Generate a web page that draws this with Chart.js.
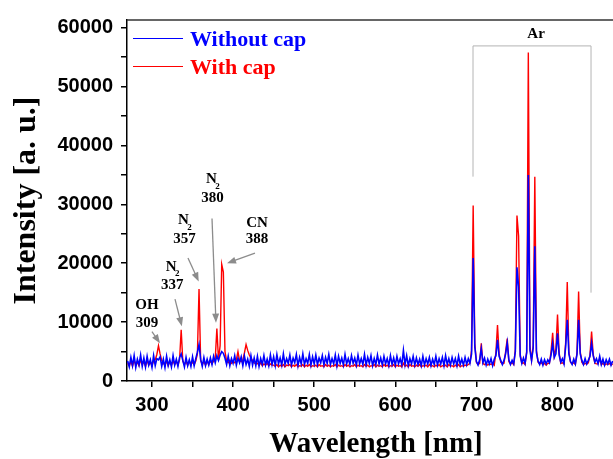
<!DOCTYPE html>
<html>
<head>
<meta charset="utf-8">
<title>Emission spectrum</title>
<script src="https://cdn.jsdelivr.net/npm/chart.js@4.4.0/dist/chart.umd.min.js"></script>
<style>
  body { margin: 0; background: #fff; }
  canvas { display: block; }
</style>
</head>
<body>
<canvas id="spectrumChart" width="613" height="459"></canvas>
<script>
// wavelength grid in nm (shared by both spectra)
const wavelengths = [
  270,272,274,276,278,280,282,284,286,288, 290,292,294,296,298,300,302,304,306,308,
  310,312,314,316,318,320,322,324,326,328, 330,332,334,336,338,340,342,344,346,348,
  350,352,354,356,358,360,362,364,366,368, 370,372,374,376,378,380,382,384,386,388,
  390,392,394,396,398,400,402,404,406,408, 410,412,414,416,418,420,422,424,426,428,
  430,432,434,436,438,440,442,444,446,448, 450,452,454,456,458,460,462,464,466,468,
  470,472,474,476,478,480,482,484,486,488, 490,492,494,496,498,500,502,504,506,508,
  510,512,514,516,518,520,522,524,526,528, 530,532,534,536,538,540,542,544,546,548,
  550,552,554,556,558,560,562,564,566,568, 570,572,574,576,578,580,582,584,586,588,
  590,592,594,596,598,600,602,604,606,608, 610,612,614,616,618,620,622,624,626,628,
  630,632,634,636,638,640,642,644,646,648, 650,652,654,656,658,660,662,664,666,668,
  670,672,674,676,678,680,682,684,686,688, 690,692,694,696,698,700,702,704,706,708,
  710,712,714,716,718,720,722,724,726,728, 730,732,734,736,738,740,742,744,746,748,
  750,752,754,756,758,760,762,764,766,768, 770,772,774,776,778,780,782,784,786,788,
  790,792,794,796,798,800,802,804,806,808, 810,812,814,816,818,820,822,824,826,828,
  830,832,834,836,838,840,842,844,846,848, 850,852,854,856,858,860,862,864,866,868
];

// intensity [a. u.] without cap (blue)
const withoutCap = [
  3400,2400,4000,2600,4300,2300,3700,2700,4400,2500, 3900,2400,4200,2700,3600,2300,4300,2600,3800,3600,
  4100,2500,3700,2300,4200,2600,3600,2400,4300,2700, 3700,2500,4000,4600,3500,2400,4000,2600,3600,2500,
  4100,2600,3800,4900,6200,3700,2500,4000,2600,3700, 2700,3900,2800,4200,3100,4300,3500,4400,5000,4700,
  3900,2800,4200,2600,3800,3000,4300,2700,3900,3100, 4100,2600,4200,2800,3700,2500,4300,2700,3900,2600,
  4200,2500,3800,2800,4300,2700,3700,2600,4400,2800, 4100,2600,4500,2900,3900,2700,4600,2800,3800,3000,
  4400,2700,3900,3100,4500,2600,4000,2900,4600,2800, 3800,3000,4500,2700,4100,2900,4400,2800,3900,3100,
  4300,2700,4000,3000,4500,2800,3800,2900,4400,2600, 4200,3000,3900,2700,4500,2900,3800,2800,4300,3000,
  3900,2700,4400,2900,3800,2800,4500,2700,4000,3000, 4300,2600,3800,2800,4400,2900,3900,2700,4200,2900,
  3800,2600,4300,2800,3900,2700,4200,2900,3800,2700, 5200,2800,4300,2600,3800,2900,4200,2700,3900,2800,
  3700,2600,4200,2700,3800,2900,4000,2600,3700,2800, 4200,2700,3800,2900,4000,2600,4300,2800,3800,2700,
  4000,2900,3800,2600,4200,2800,3700,2700,4000,2800, 3800,3000,4600,20900,5800,3300,2700,3600,5500,3100,
  3900,2700,3700,2900,3800,2600,3700,4300,7000,4200, 3500,2800,3500,4600,6500,3600,2800,3500,2900,5000,
  19300,16000,4200,3000,3900,3000,4800,35000,5200,3500, 5600,22900,4800,3400,2800,3700,2700,3600,2900,3600,
  3100,4400,6400,4000,4600,8100,4400,3200,3800,2900, 5800,10400,4600,3300,2800,3700,2900,4500,10400,4600,
  3500,2800,3800,2900,3500,4200,6400,4300,3200,3800, 2900,4200,2800,3700,2700,3600,2900,3700,2700,3400
];

// intensity [a. u.] with cap (red)
const withCap = [
  3000,2600,3400,2500,3500,2700,3200,2600,3600,2800, 3300,2500,3500,2700,3200,2600,3400,3600,4500,6000,
  4600,3500,3000,2700,3400,2600,3300,2700,3400,2800, 3300,2700,3600,8700,3400,2800,3300,2700,3400,2800,
  3200,2800,3400,4600,15600,3500,2800,3300,2700,3400, 2800,3400,2900,3400,3800,8900,3600,6000,19800,18500,
  5000,3400,3100,3500,3000,3300,3100,3600,5000,3400, 3300,3600,4800,6200,5200,4400,3900,3500,3100,2900,
  3000,2700,3100,2600,2900,2700,3000,2600,2900,2700, 2700,2500,2800,2400,2700,2500,2800,2400,2700,2600,
  2800,2400,2700,2500,2800,2400,2600,2500,2800,2400, 2700,2500,2800,2400,2600,2500,2700,2400,2800,2500,
  2600,2400,2800,2500,2700,2400,2600,2500,2800,2400, 2700,2500,2600,2400,2800,2500,2700,2400,2600,2500,
  2800,2400,2700,2500,2600,2400,2800,2500,2700,2400, 2600,2500,2800,2400,2700,2500,2600,2400,2800,2500,
  2700,2400,2600,2500,2800,2400,2700,2500,2600,2400, 3000,2500,2700,2400,2800,2500,2600,2400,2700,2500,
  2800,2400,2600,2500,2700,2400,2800,2500,2600,2400, 2700,2500,2800,2400,2600,2500,2700,2400,2800,2500,
  2600,2400,2700,2500,2800,2400,2600,2500,2700,2600, 2800,3000,5200,29800,6400,3200,2800,3000,6400,3000,
  2800,3000,2700,2900,2800,3000,2700,4800,9500,4600, 3200,2900,3000,5000,7200,3300,2900,3100,2800,5400,
  28100,24600,4500,3000,3100,2800,5000,55800,6000,3500, 6000,34700,5200,3200,2900,3100,2800,3000,2700,3000,
  3000,5000,8200,4200,5400,11300,4800,3000,3100,2900, 6500,16800,5000,3200,2900,3100,2800,4800,15200,5000,
  3200,2800,3000,2900,3100,4400,8400,4500,3000,2900, 2900,3800,2800,3000,2700,2900,2800,3000,2700,2900
];

const xTicks = [300, 350, 400, 450, 500, 550, 600, 650, 700, 750, 800, 850];
const yTicks = [0, 5000, 10000, 15000, 20000, 25000, 30000, 35000, 40000, 45000, 50000, 55000, 60000];

// peak labels, positioned in data units (nm, intensity)
const peakLabels = [
  { head: 'OH', sub: '',  line: '309', nm: 293.8, headY: 12800, lineY: 9900,  from: [300.0, 8400],  to: [309.9, 6400] },
  { head: 'N',  sub: '2', line: '337', nm: 325.0, headY: 19400, lineY: 16300, from: [328.4, 13900], to: [336.8, 9300] },
  { head: 'N',  sub: '2', line: '357', nm: 340.0, headY: 27300, lineY: 24100, from: [344.4, 20900], to: [357.6, 16900] },
  { head: 'N',  sub: '2', line: '380', nm: 374.6, headY: 34200, lineY: 31100, from: [374.0, 27600], to: [378.9, 9900] },
  { head: 'CN', sub: '',  line: '388', nm: 429.5, headY: 26800, lineY: 24100, from: [427.0, 21700], to: [392.5, 20000] }
];

// bracket over the argon lines
const arBracket = { left: 695.8, right: 841.3, top: 56900, leftBottom: 34700, rightBottom: 15000, labelY: 58900 };

const blueLine = '#0000ff';
const redLine = '#ff0000';

function toPoints(ys) {
  return wavelengths.map((x, i) => ({ x: x, y: ys[i] }));
}

const annotations = {
  id: 'annotations',
  afterDatasetsDraw(chart) {
    const { ctx, chartArea } = chart;
    const xs = chart.scales.x;
    const ys = chart.scales.y;

    ctx.save();
    // top frame line
    ctx.strokeStyle = '#333';
    ctx.lineWidth = 1.5;
    ctx.beginPath();
    ctx.moveTo(chartArea.left, chartArea.top);
    ctx.lineTo(chartArea.right, chartArea.top);
    ctx.stroke();

    // Ar bracket
    ctx.strokeStyle = '#b4b4b4';
    ctx.lineWidth = 1;
    ctx.beginPath();
    ctx.moveTo(xs.getPixelForValue(arBracket.left), ys.getPixelForValue(arBracket.leftBottom));
    ctx.lineTo(xs.getPixelForValue(arBracket.left), ys.getPixelForValue(arBracket.top));
    ctx.lineTo(xs.getPixelForValue(arBracket.right), ys.getPixelForValue(arBracket.top));
    ctx.lineTo(xs.getPixelForValue(arBracket.right), ys.getPixelForValue(arBracket.rightBottom));
    ctx.stroke();

    ctx.fillStyle = '#000';
    ctx.textAlign = 'center';
    ctx.textBaseline = 'middle';
    ctx.font = 'bold 15px "Liberation Serif"';
    ctx.fillText('Ar', xs.getPixelForValue((arBracket.left + arBracket.right) / 2 + 5), ys.getPixelForValue(arBracket.labelY));

    // peak labels with arrows
    peakLabels.forEach(p => {
      const px = xs.getPixelForValue(p.nm);
      ctx.fillStyle = '#000';
      ctx.font = 'bold 15px "Liberation Serif"';
      ctx.textAlign = 'center';
      if (p.sub) {
        ctx.fillText(p.head, px - 1, ys.getPixelForValue(p.headY));
        ctx.font = 'bold 9px "Liberation Serif"';
        ctx.fillText(p.sub, px + 5, ys.getPixelForValue(p.headY) + 7);
      } else {
        ctx.fillText(p.head, px, ys.getPixelForValue(p.headY));
      }
      ctx.font = 'bold 15px "Liberation Serif"';
      ctx.fillText(p.line, px, ys.getPixelForValue(p.lineY));

      const x0 = xs.getPixelForValue(p.from[0]), y0 = ys.getPixelForValue(p.from[1]);
      const x1 = xs.getPixelForValue(p.to[0]), y1 = ys.getPixelForValue(p.to[1]);
      const ang = Math.atan2(y1 - y0, x1 - x0);
      ctx.strokeStyle = '#8c8c8c';
      ctx.fillStyle = '#8c8c8c';
      ctx.lineWidth = 1.3;
      ctx.beginPath();
      ctx.moveTo(x0, y0);
      ctx.lineTo(x1 - 6 * Math.cos(ang), y1 - 6 * Math.sin(ang));
      ctx.stroke();
      ctx.beginPath();
      ctx.moveTo(x1, y1);
      ctx.lineTo(x1 - 9 * Math.cos(ang) + 3.5 * Math.sin(ang), y1 - 9 * Math.sin(ang) - 3.5 * Math.cos(ang));
      ctx.lineTo(x1 - 9 * Math.cos(ang) - 3.5 * Math.sin(ang), y1 - 9 * Math.sin(ang) + 3.5 * Math.cos(ang));
      ctx.closePath();
      ctx.fill();
    });

    // legend
    const lx = chartArea.left;
    const ty = chartArea.top;
    ctx.lineWidth = 1;
    ctx.textAlign = 'left';
    ctx.textBaseline = 'alphabetic';
    ctx.font = 'bold 22px "Liberation Serif"';
    [[blueLine, 'Without cap', 18], [redLine, 'With cap', 46]].forEach(([c, label, dy]) => {
      ctx.strokeStyle = c;
      ctx.beginPath();
      ctx.moveTo(lx + 6, ty + dy + 0.5);
      ctx.lineTo(lx + 56, ty + dy + 0.5);
      ctx.stroke();
      ctx.fillStyle = c;
      ctx.fillText(label, lx + 63, ty + dy + 8);
    });

    // x axis title
    ctx.fillStyle = '#000';
    ctx.textAlign = 'center';
    ctx.font = 'bold 29px "Liberation Serif"';
    ctx.fillText('Wavelength [nm]', chartArea.left + 249, chart.height - 7);
    ctx.restore();
  }
};

const tickFont = { family: '"Liberation Sans", Arial', size: 20, weight: 'bold' };
const titleFont = { family: '"Liberation Serif", "Times New Roman"', size: 32, weight: 'bold' };

new Chart(document.getElementById('spectrumChart'), {
  type: 'line',
  data: {
    datasets: [
      {
        label: 'Without cap',
        data: toPoints(withoutCap),
        borderColor: blueLine,
        borderWidth: 1.6,
        pointRadius: 0,
        tension: 0
      },
      {
        label: 'With cap',
        data: toPoints(withCap),
        borderColor: redLine,
        borderWidth: 1.4,
        pointRadius: 0,
        tension: 0
      }
    ]
  },
  options: {
    responsive: false,
    animation: false,
    layout: { padding: { top: 17, right: 0, bottom: 0, left: 0 } },
    plugins: {
      legend: { display: false },
      tooltip: { enabled: false }
    },
    scales: {
      x: {
        type: 'linear',
        min: 269.2,
        max: 868.4,
        afterBuildTicks: s => { s.ticks = xTicks.map(v => ({ value: v })); },
        afterFit: s => { s.height = 78; },
        ticks: {
          color: '#000',
          font: tickFont,
          padding: 6,
          maxRotation: 0,
          autoSkip: false,
          callback: v => (v % 100 === 0 ? v : '')
        },
        grid: { drawOnChartArea: false, drawTicks: true, tickLength: 6, color: '#000', lineWidth: 1.5 },
        border: { color: '#000', width: 1.5 }
      },
      y: {
        min: 0,
        max: 61300,
        afterBuildTicks: s => { s.ticks = yTicks.map(v => ({ value: v })); },
        afterFit: s => { s.width = 127; },
        ticks: {
          color: '#000',
          font: tickFont,
          padding: 8,
          autoSkip: false,
          callback: v => (v % 10000 === 0 ? v : '')
        },
        grid: { drawOnChartArea: false, drawTicks: true, tickLength: 6, color: '#000', lineWidth: 1.5 },
        border: { color: '#000', width: 1.5 },
        title: {
          display: true,
          text: 'Intensity [a. u.]',
          color: '#000',
          font: titleFont,
          padding: { top: 8, bottom: 0 }
        }
      }
    }
  },
  plugins: [annotations]
});
</script>
</body>
</html>
